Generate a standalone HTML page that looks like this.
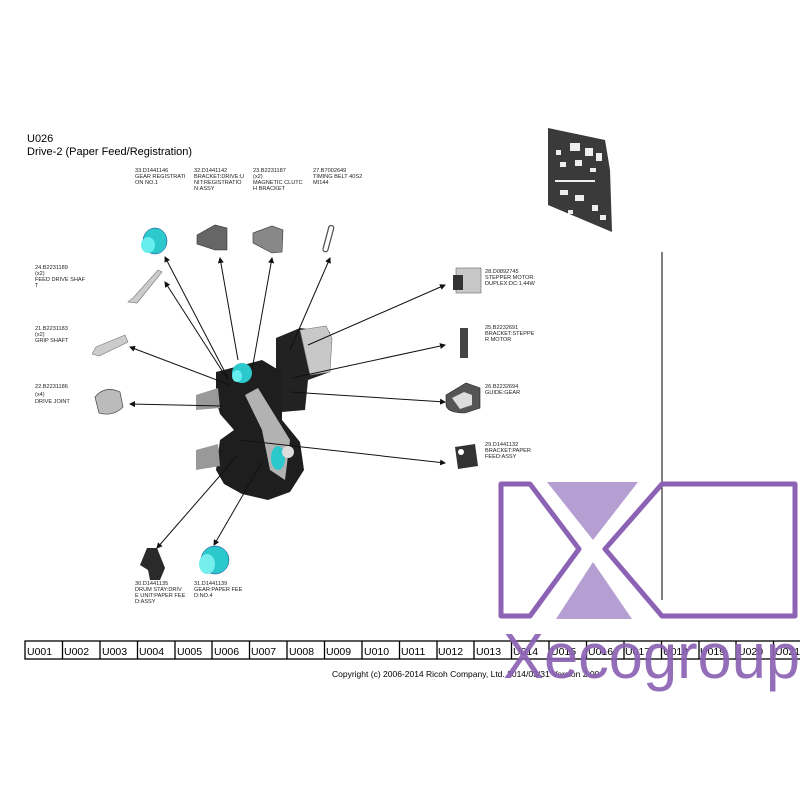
<!DOCTYPE html>
<html><head><meta charset="utf-8"><style>
html,body{margin:0;padding:0;background:#fff;width:800px;height:800px;overflow:hidden}
svg{display:block}
.t{font-family:"Liberation Sans",sans-serif;fill:#000}
.l{font-family:"Liberation Sans",sans-serif;font-size:5.6px;fill:#222}
.ln{stroke:#111;stroke-width:1;fill:none}
.c{font-family:"Liberation Sans",sans-serif;font-size:10.5px;fill:#000}
</style></head><body>
<svg width="800" height="800" viewBox="0 0 800 800" xmlns="http://www.w3.org/2000/svg">
<defs><marker id="a" markerWidth="6" markerHeight="6" refX="5" refY="3" orient="auto"><path d="M0,0 L6,3 L0,6z" fill="#111"/></marker></defs>
<text class="t" x="27" y="142" font-size="11">U026</text>
<text class="t" x="27" y="155" font-size="11">Drive-2 (Paper Feed/Registration)</text>

<g class="l">
<text x="135" y="172">33.D1441146</text><text x="135" y="178">GEAR REGISTRATI</text><text x="135" y="184">ON NO.1</text>
<text x="194" y="172">32.D1441142</text><text x="194" y="178">BRACKET:DRIVE:U</text><text x="194" y="184">NIT:REGISTRATIO</text><text x="194" y="190">N:ASSY</text>
<text x="253" y="172">23.B2231187</text><text x="253" y="178">(x2)</text><text x="253" y="184">MAGNETIC CLUTC</text><text x="253" y="190">H BRACKET</text>
<text x="313" y="172">27.B7002649</text><text x="313" y="178">TIMING BELT 40S2</text><text x="313" y="184">MI144</text>
<text x="35" y="269">24.B2231189</text><text x="35" y="275">(x2)</text><text x="35" y="281">FEED DRIVE SHAF</text><text x="35" y="287">T</text>
<text x="35" y="330">21.B2231183</text><text x="35" y="336">(x2)</text><text x="35" y="342">GRIP SHAFT</text>
<text x="35" y="388">22.B2231186</text><text x="35" y="396">(x4)</text><text x="35" y="403">DRIVE JOINT</text>
<text x="485" y="273">28.D0892745</text><text x="485" y="279">STEPPER MOTOR:</text><text x="485" y="285">DUPLEX:DC:1.44W</text>
<text x="485" y="329">25.B2232691</text><text x="485" y="335">BRACKET:STEPPE</text><text x="485" y="341">R MOTOR</text>
<text x="485" y="388">26.B2232694</text><text x="485" y="394">GUIDE:GEAR</text>
<text x="485" y="446">29.D1441132</text><text x="485" y="452">BRACKET:PAPER</text><text x="485" y="458">FEED:ASSY</text>
<text x="135" y="585">30.D1441135</text><text x="135" y="591">DRUM STAY:DRIV</text><text x="135" y="597">E UNIT:PAPER FEE</text><text x="135" y="603">D:ASSY</text>
<text x="194" y="585">31.D1441139</text><text x="194" y="591">GEAR:PAPER FEE</text><text x="194" y="597">D:NO.4</text>
</g>

<!-- top-right small assembly -->
<polygon points="548,128 605,140 610,170 612,232 548,205" fill="#3a3a3a"/>
<g fill="#eee">
<rect x="570" y="143" width="10" height="8"/><rect x="585" y="148" width="8" height="8"/><rect x="596" y="153" width="6" height="8"/>
<rect x="556" y="150" width="5" height="5"/><rect x="560" y="162" width="6" height="5"/><rect x="575" y="160" width="7" height="6"/><rect x="590" y="168" width="6" height="4"/>
<rect x="560" y="190" width="8" height="5"/><rect x="575" y="195" width="9" height="6"/><rect x="592" y="205" width="6" height="6"/><rect x="555" y="180" width="40" height="2"/>
<rect x="568" y="210" width="5" height="4"/><rect x="600" y="215" width="6" height="5"/>
</g>

<!-- left parts -->
<polygon points="128,302 133,298 158,270 162,272 137,303" fill="#ccc" stroke="#777" stroke-width="0.6"/>
<polygon points="92,354 96,347 125,335 128,342 99,356" fill="#ccc" stroke="#777" stroke-width="0.6"/>
<path d="M95,397 q10,-12 25,-5 l3,15 q-10,10 -24,6 z" fill="#bbb" stroke="#555" stroke-width="0.8"/>
<ellipse cx="155" cy="241" rx="12" ry="13" fill="#2cc9cc" stroke="#138" stroke-width="0.5"/><ellipse cx="148" cy="245" rx="7" ry="8" fill="#6ee"/>
<polygon points="197,235 215,225 227,228 227,250 215,250 197,244" fill="#666" stroke="#333" stroke-width="0.6"/>
<polygon points="253,233 272,226 283,230 282,252 272,253 253,243" fill="#888" stroke="#333" stroke-width="0.6"/>
<rect x="326" y="225" width="5" height="27" rx="2.5" fill="none" stroke="#555" stroke-width="1.3" transform="rotate(15 328 238)"/>
<rect x="456" y="268" width="25" height="25" fill="#c8c8c8" stroke="#666" stroke-width="0.6"/><rect x="453" y="275" width="10" height="15" fill="#333"/>
<rect x="460" y="328" width="8" height="30" fill="#444"/>
<path d="M446,395 l20,-12 l14,5 l0,20 l-15,5 q-20,0 -19,-10 z" fill="#555" stroke="#222" stroke-width="0.6"/><path d="M452,398 l12,-6 l8,3 l0,10 l-12,4z" fill="#ddd"/>
<path d="M455,447 l20,-3 l3,22 l-20,3z" fill="#333"/><circle cx="461" cy="452" r="3" fill="#fff"/>
<path d="M147,548 l10,0 l8,20 l-5,12 l-10,0 l-2,-10 l-8,-5z" fill="#2a2a2a"/>
<ellipse cx="215" cy="560" rx="14" ry="14" fill="#2cc9cc" stroke="#138" stroke-width="0.5"/><ellipse cx="207" cy="564" rx="8" ry="10" fill="#7ee"/>

<!-- main assembly -->
<polygon points="276,338 300,328 330,332 330,372 308,380 305,410 282,412 276,390" fill="#222"/>
<polygon points="300,330 326,326 332,338 330,372 310,375" fill="#c8c8c8" stroke="#777" stroke-width="0.6"/>
<polygon points="216,372 262,360 282,372 282,420 300,442 304,470 290,492 268,500 242,494 224,484 216,470 220,440 234,430 220,414 216,400" fill="#1e1e1e"/>
<polygon points="245,395 258,388 290,440 285,480 270,470 262,430" fill="#ccc" opacity="0.85"/>
<polygon points="196,395 218,388 220,408 196,410" fill="#999"/>
<polygon points="196,450 218,444 220,466 196,470" fill="#999"/>
<ellipse cx="242" cy="373" rx="10" ry="10" fill="#2cc9cc"/><ellipse cx="237" cy="376" rx="5" ry="6" fill="#6ee"/>
<ellipse cx="278" cy="458" rx="7" ry="12" fill="#2cc9cc"/><circle cx="288" cy="452" r="6" fill="#ddd"/>

<g class="ln" marker-end="url(#a)">
<line x2="165" y2="257" x1="228" y1="378"/>
<line x2="220" y2="258" x1="238" y1="360"/>
<line x2="272" y2="258" x1="252" y1="370"/>
<line x2="330" y2="258" x1="290" y1="350"/>
<line x2="165" y2="282" x1="228" y1="380"/>
<line x2="130" y2="347" x1="230" y1="385"/>
<line x2="130" y2="404" x1="222" y1="406"/>
<line x2="445" y2="285" x1="308" y1="345"/>
<line x2="445" y2="345" x1="292" y1="378"/>
<line x2="445" y2="402" x1="290" y1="392"/>
<line x2="445" y2="463" x1="240" y1="440"/>
<line x2="157" y2="548" x1="238" y1="455"/>
<line x2="214" y2="545" x1="262" y1="462"/>
</g>

<line x1="662" y1="252" x2="662" y2="600" stroke="#000" stroke-width="1"/>

<g fill="none" stroke="#8c62b4" stroke-width="5" stroke-linejoin="round">
<polygon points="501,484 530,484 579,549 530,616 501,616"/>
<polygon points="605,549 662,484 795,484 795,616 662,616"/>
</g>
<polygon points="547,482 638,482 593,540" fill="#b59ed2"/>
<polygon points="593,562 556,619 632,619" fill="#b59ed2"/>

<rect x="25" y="641" width="790" height="18" fill="#fff" stroke="#000" stroke-width="1.3"/>
<g class="c" font-size="11">
<text x="27" y="655">U001</text><text x="64" y="655">U002</text><text x="102" y="655">U003</text><text x="139" y="655">U004</text><text x="177" y="655">U005</text><text x="214" y="655">U006</text><text x="251" y="655">U007</text><text x="289" y="655">U008</text><text x="326" y="655">U009</text><text x="364" y="655">U010</text><text x="401" y="655">U011</text><text x="438" y="655">U012</text><text x="476" y="655">U013</text><text x="513" y="655">U014</text><text x="551" y="655">U015</text><text x="588" y="655">U016</text><text x="625" y="655">U017</text><text x="663" y="655">U018</text><text x="700" y="655">U019</text><text x="738" y="655">U020</text><text x="775" y="655">U021</text>
</g>
<g stroke="#000" stroke-width="1.3">
<line x1="62.5" y1="641" x2="62.5" y2="659"/><line x1="100" y1="641" x2="100" y2="659"/><line x1="137.5" y1="641" x2="137.5" y2="659"/><line x1="175" y1="641" x2="175" y2="659"/><line x1="212" y1="641" x2="212" y2="659"/><line x1="249.5" y1="641" x2="249.5" y2="659"/><line x1="287" y1="641" x2="287" y2="659"/><line x1="324.5" y1="641" x2="324.5" y2="659"/><line x1="362" y1="641" x2="362" y2="659"/><line x1="399.5" y1="641" x2="399.5" y2="659"/><line x1="437" y1="641" x2="437" y2="659"/><line x1="474" y1="641" x2="474" y2="659"/><line x1="511.5" y1="641" x2="511.5" y2="659"/><line x1="549" y1="641" x2="549" y2="659"/><line x1="586.5" y1="641" x2="586.5" y2="659"/><line x1="624" y1="641" x2="624" y2="659"/><line x1="661.5" y1="641" x2="661.5" y2="659"/><line x1="699" y1="641" x2="699" y2="659"/><line x1="736" y1="641" x2="736" y2="659"/><line x1="773.5" y1="641" x2="773.5" y2="659"/>
</g>
<text class="t" x="332" y="677" font-size="8.5">Copyright (c) 2006-2014 Ricoh Company, Ltd.    2014/03/31 Version 2.00</text>

<text x="503" y="678" font-family="Liberation Sans,sans-serif" font-size="64" fill="#8c62b4" fill-opacity="0.92" textLength="297" lengthAdjust="spacingAndGlyphs">Xecogroup</text>
</svg>
</body></html>
